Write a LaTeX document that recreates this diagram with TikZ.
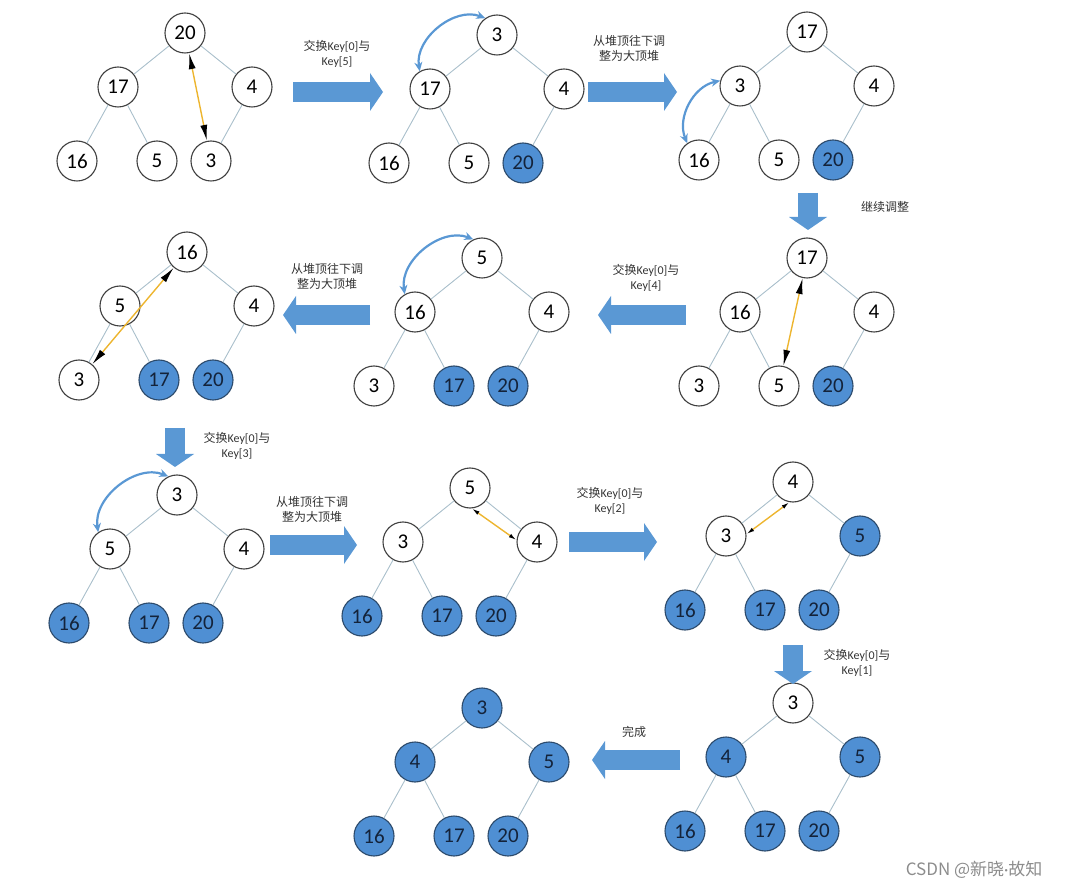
\documentclass[tikz,border=0pt]{standalone}
\usepackage{fontspec}
\setmainfont{Carlito}
\newfontfamily\cjk{Noto Sans CJK SC}
\usepackage{xcolor}
\usepackage{tikz}
\usetikzlibrary{
  arrows.meta,
  positioning,
}
\definecolor{heapBlue}{HTML}{4F8FD3}
\definecolor{heapLine}{HTML}{2C4A6B}
\definecolor{heapText}{HTML}{14233A}
\definecolor{edgeGray}{HTML}{A9BFCB}
\definecolor{stepBlue}{HTML}{5A98D4}
\definecolor{swapGold}{HTML}{EDB52F}
\definecolor{noteGray}{HTML}{333333}

\begin{document}
\begin{tikzpicture}[x=1pt, y=-1pt,
  hnode/.style={circle, line width=1.1pt, minimum size=40pt, inner sep=0pt,
    font={\fontsize{21}{21}\selectfont}},
  treeEdge/.style={edgeGray, line width=0.9pt},
  stepArrow/.style={stepBlue, line width=20pt,
    -{Triangle[length=13pt, width=38pt, line width=0pt]}},
  swapArrow/.style={swapGold, line width=1.4pt,
    {Latex[color=black, length=16pt, width=7pt]}-{Latex[color=black, length=16pt, width=7pt]}},
  swapSmall/.style={swapGold, line width=1.4pt,
    {Latex[color=black, length=8pt, width=4pt]}-{Latex[color=black, length=8pt, width=4pt]}},
  swirl/.style={stepBlue, line width=2.2pt,
    {Stealth[length=9pt, width=8pt]}-{Stealth[length=9pt, width=8pt]}},
  stepNote/.style={noteGray, align=center, font={\fontsize{12}{15}\selectfont}},
]
  \useasboundingbox (0,0) rectangle (1066,890);

  % 11 heaps: id / root x / root y / sorted count / keys a..f
  \foreach \tr/\rx/\ry/\nd/\va/\vb/\vc/\vd/\ve/\vf in {
      1/185/33/0/20/17/4/16/5/3,
      2/497/35/1/3/17/4/16/5/20,
      3/807/32/1/17/3/4/16/5/20,
      4/807/258/1/17/16/4/3/5/20,
      5/482/258/2/5/16/4/3/17/20,
      6/187/252/2/16/5/4/3/17/20,
      7/177/495/3/3/5/4/16/17/20,
      8/470/488/3/5/3/4/16/17/20,
      9/793/482/4/4/3/5/16/17/20,
      10/793/703/5/3/4/5/16/17/20,
      11/482/708/6/3/4/5/16/17/20} {
    \foreach \n/\dx/\dy/\val [count=\i] in {a/0/0/\va, b/-67/54/\vb, c/67/54/\vc,
        d/-108/128/\vd, e/-28/128/\ve, f/26/128/\vf} {
      \ifnum\i>\numexpr6-\nd\relax
        \def\fc{heapBlue}\def\dc{heapLine}\def\tc{heapText}
      \else
        \def\fc{white}\def\dc{black!75}\def\tc{black}
      \fi
      \node[hnode, fill=\fc, draw=\dc, text=\tc] (t\tr-\n) at (\rx+\dx, \ry+\dy) {\val};
    }
    \draw[treeEdge] (t\tr-a) -- (t\tr-b) (t\tr-a) -- (t\tr-c)
      (t\tr-b) -- (t\tr-d) (t\tr-b) -- (t\tr-e) (t\tr-c) -- (t\tr-f);
  }

  % swaps of two keys
  \draw[swapArrow] (t1-a) -- (t1-f);
  \draw[swapArrow] (t4-a) -- (t4-e);
  \draw[swapArrow] (t6-a) -- (t6-d);
  \draw[swapSmall] (t8-a.-85) -- (t8-c.175);
  \draw[swapSmall] (t9-a.-100) -- (t9-b.5);

  % sift-down swaps
  \draw[swirl] (t2-b.120) to[bend left=60] (t2-a.125);
  \draw[swirl] (t3-d.125) to[bend left=50] (t3-b.165);
  \draw[swirl] (t5-b.120) to[bend left=60] (t5-a.115);
  \draw[swirl] (t7-b.125) to[bend left=60] (t7-a.115);

  % steps between heaps
  \foreach \s/\ax/\ay/\bx/\by in {1/293/92/383/92, 2/588/92/677/92, 3/808/193/808/230,
      4/686/315/598/315, 5/370/315/283/315, 6/175/428/175/467,
      7/270/545/357/545, 8/569/542/657/542, 9/793/645/793/684, 10/680/760/592/760} {
    \coordinate (s\s-from) at (\ax,\ay);
    \coordinate (s\s-to) at (\bx,\by);
    \draw[stepArrow] (s\s-from) -- (s\s-to);
  }
  \node[stepNote] (n1) at (337,54) {{\cjk 交换}Key[0]{\cjk 与}\\Key[5]};
  \node[stepNote] (n2) at (629,48) {\cjk 从堆顶往下调\\\cjk 整为大顶堆};
  \node[stepNote] (n3) at (885,207) {\cjk 继续调整};
  \node[stepNote] (n4) at (646,278) {{\cjk 交换}Key[0]{\cjk 与}\\Key[4]};
  \node[stepNote] (n5) at (327,276) {\cjk 从堆顶往下调\\\cjk 整为大顶堆};
  \node[stepNote] (n6) at (237,446) {{\cjk 交换}Key[0]{\cjk 与}\\Key[3]};
  \node[stepNote] (n7) at (312,509) {\cjk 从堆顶往下调\\\cjk 整为大顶堆};
  \node[stepNote] (n8) at (610,501) {{\cjk 交换}Key[0]{\cjk 与}\\Key[2]};
  \node[stepNote] (n9) at (857,663) {{\cjk 交换}Key[0]{\cjk 与}\\Key[1]};
  \node[stepNote] (n10) at (634,732) {\cjk 完成};

  \node[text=black!45, anchor=east, font={\cjk\fontsize{17}{17}\selectfont}] (mark)
    at (1046,870) {CSDN @新晓{\normalfont·}故知};
\end{tikzpicture}
\end{document}
